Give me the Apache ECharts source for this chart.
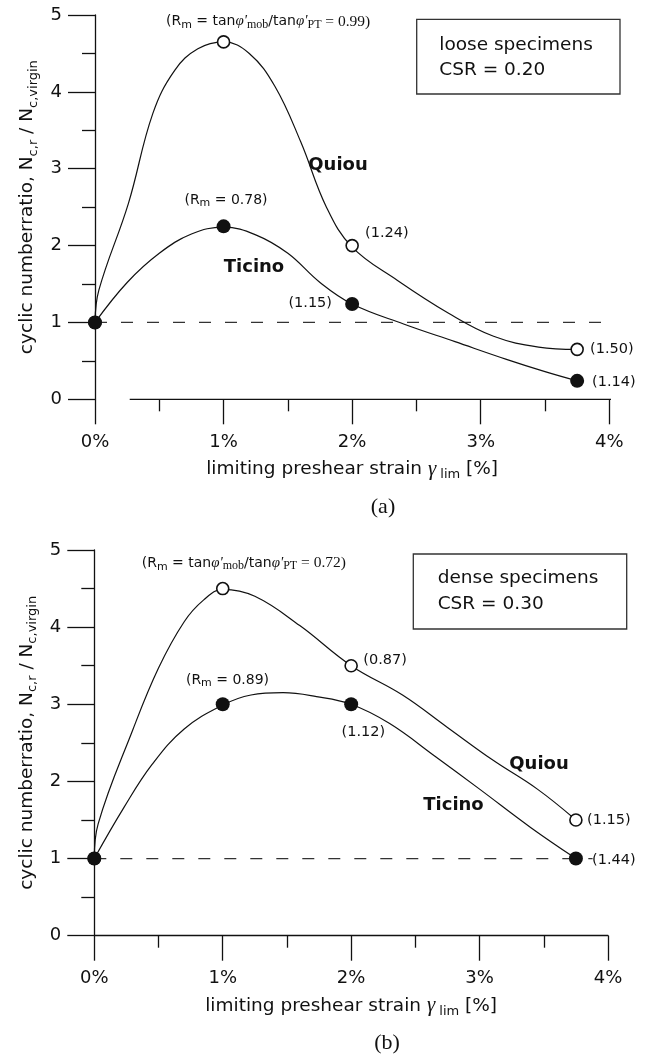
<!DOCTYPE html>
<html>
<head>
<meta charset="utf-8">
<script src="https://cdn.jsdelivr.net/npm/echarts@6/dist/echarts.min.js"></script>
<style>
html,body{margin:0;padding:0;background:#fff;}
#c{width:647px;height:1058px;}
</style>
</head>
<body>
<div id="c"></div>
<script>
// ---------- data ----------
const strainPct = [0, 1, 2, 3.75];               // limiting preshear strain [%]
const topQuiou = [1, 4.65, 2.0, 0.65];           // (a) loose, Quiou (open circles)
const topTicino = [1, 2.25, 1.24, 0.24];         // (a) loose, Ticino (filled)
const botQuiou = [1, 4.5, 3.5, 1.5];             // (b) dense, Quiou (open)
const botTicino = [1, 3.0, 3.0, 1.0];            // (b) dense, Ticino (filled)

// curves [strain %, ratio]
const topQuiouCurve = [[0,1],[0.03,1.42],[0.26,2.55],[0.45,3.72],[0.62,4.28],[0.8,4.56],[1,4.65],[1.2,4.5],[1.4,4.07],[1.6,3.35],[1.8,2.5],[2,1.98],[2.35,1.55],[2.75,1.12],[3.1,0.82],[3.45,0.68],[3.75,0.65]];
const topTicinoCurve = [[0,1],[0.25,1.52],[0.5,1.9],[0.75,2.15],[1,2.24],[1.25,2.14],[1.5,1.9],[1.75,1.52],[2,1.24],[2.4,0.98],[2.8,0.75],[3.2,0.52],[3.5,0.36],[3.75,0.24]];
const botQuiouCurve = [[0,1],[0.03,1.45],[0.3,2.67],[0.5,3.47],[0.7,4.07],[0.85,4.35],[1,4.49],[1.25,4.4],[1.6,4.02],[2,3.5],[2.4,3.12],[2.75,2.7],[3.1,2.28],[3.45,1.9],[3.75,1.5]];
const botTicinoCurve = [[0,1],[0.23,1.66],[0.45,2.22],[0.7,2.68],[1,2.99],[1.22,3.12],[1.47,3.15],[1.73,3.1],[2,3.0],[2.3,2.75],[2.65,2.33],[3.0,1.9],[3.4,1.4],[3.75,1.0]];

const refLineTop = [[0,1],[4.04,1]];             // dashed N=1 reference
const refLineBot = [[0,1],[3.88,1]];
const topAxisLine = [[0.27,0],[4.27,0]];         // detached x-axis line of (a)

const xTicks = [0,1,2,3,4];
const yTicks = [0,1,2,3,4,5];

// ---------- styling ----------
const sans = '"DejaVu Sans", sans-serif';
const serif = '"Liberation Serif", "DejaVu Serif", serif';
const ink = '#111';
const pairs = (ys) => strainPct.map((x, i) => [x, ys[i]]);

const yName = '{n|cyclic numberratio, N}{s|c,r}{n| / N}{s|c,virgin}';
const yRich = {
  n: {fontFamily: sans, fontSize: 18.5, color: ink, lineHeight: 24, verticalAlign: 'middle'},
  s: {fontFamily: sans, fontSize: 13, color: ink, lineHeight: 14, verticalAlign: 'bottom'}
};
const xName = '{n|limiting preshear strain }{g|γ}{s| lim}{n| [%]}';
const xRich = {
  n: {fontFamily: sans, fontSize: 18.5, color: ink, lineHeight: 24, verticalAlign: 'middle'},
  g: {fontFamily: serif, fontStyle: 'italic', fontSize: 21, color: ink, lineHeight: 24, verticalAlign: 'middle'},
  s: {fontFamily: sans, fontSize: 13, color: ink, lineHeight: 14, verticalAlign: 'bottom'}
};

function xAxisCfg(grid, showLine) {
  return {
    gridIndex: grid, type: 'value', min: xTicks[0], max: xTicks[xTicks.length-1], interval: 1,
    axisLine: {show: showLine, onZero: false, lineStyle: {color: ink, width: 1.3}},
    axisTick: {show: true, length: 25, lineStyle: {color: ink, width: 1.3}},
    minorTick: {show: true, splitNumber: 2, length: 12, lineStyle: {color: ink, width: 1.3}},
    splitLine: {show: false}, minorSplitLine: {show: false},
    axisLabel: {formatter: v => v + '%', margin: 34, fontSize: 18, fontFamily: sans, color: ink},
    name: xName, nameLocation: 'middle', nameGap: 58,
    nameTextStyle: {rich: xRich}
  };
}
function yAxisCfg(grid) {
  return {
    gridIndex: grid, type: 'value', min: yTicks[0], max: yTicks[yTicks.length-1], interval: 1,
    axisLine: {show: true, onZero: false, lineStyle: {color: ink, width: 1.3}},
    axisTick: {show: true, length: 27, lineStyle: {color: ink, width: 1.3}},
    minorTick: {show: true, splitNumber: 2, length: 13, lineStyle: {color: ink, width: 1.3}},
    splitLine: {show: false}, minorSplitLine: {show: false},
    axisLabel: {margin: 33, fontSize: 18, fontFamily: sans, color: ink},
    name: yName, nameLocation: 'middle', nameGap: 52, nameRotate: 90,
    nameTextStyle: {rich: yRich}
  };
}
function curve(grid, data) {
  return {type: 'line', xAxisIndex: grid, yAxisIndex: grid, data: data, smooth: 0.4,
    showSymbol: false, symbol: 'none', silent: true, z: 2,
    lineStyle: {color: ink, width: 1.2}};
}
function markers(grid, data, open) {
  return {type: 'scatter', xAxisIndex: grid, yAxisIndex: grid, data: data, symbol: 'circle',
    symbolSize: open ? 12 : 14, silent: true, z: 5,
    itemStyle: open ? {color: '#fff', borderColor: ink, borderWidth: 1.6, opacity: 1}
                    : {color: ink, opacity: 1}};
}
function dashed(grid, data) {
  return {type: 'line', xAxisIndex: grid, yAxisIndex: grid, data: data, clip: false,
    showSymbol: false, symbol: 'none', silent: true, z: 1,
    lineStyle: {color: '#333', width: 1.3, type: [12, 14]}};
}

// annotation helpers
const annRich = {
  a: {fontFamily: sans, fontSize: 14, color: ink, lineHeight: 18, verticalAlign: 'middle'},
  b: {fontFamily: sans, fontSize: 11, color: ink, lineHeight: 11, verticalAlign: 'bottom'},
  p: {fontFamily: serif, fontStyle: 'italic', fontSize: 15, color: ink, lineHeight: 18, verticalAlign: 'middle'},
  c: {fontFamily: serif, fontSize: 12, color: ink, lineHeight: 12, verticalAlign: 'bottom'},
  d: {fontFamily: serif, fontSize: 15.5, color: ink, lineHeight: 18, verticalAlign: 'middle'}
};
function txt(x, y, text, opts) {
  opts = opts || {};
  return {type: 'text', x: x, y: y, silent: true, z: 10,
    style: Object.assign({text: text, fill: ink, fontFamily: sans, fontSize: 14.5,
      align: 'left', verticalAlign: 'middle', rich: annRich}, opts)};
}
function box(x, y, w, h) {
  return {type: 'rect', silent: true, z: 10, shape: {x: x, y: y, width: w, height: h},
    style: {fill: 'none', stroke: '#333', lineWidth: 1.3}};
}

const chart = echarts.init(document.getElementById('c'), null, {renderer: 'canvas'});
chart.setOption({
  animation: false,
  backgroundColor: '#fff',
  grid: [
    {left: 95, top: 15, width: 514.3, height: 384.3},
    {left: 94.3, top: 550, width: 513.7, height: 385.7}
  ],
  xAxis: [xAxisCfg(0, false), xAxisCfg(1, true)],
  yAxis: [yAxisCfg(0), yAxisCfg(1)],
  series: [
    {type: 'line', xAxisIndex: 0, yAxisIndex: 0, data: topAxisLine, clip: false, showSymbol: false,
      symbol: 'none', silent: true, z: 1, lineStyle: {color: ink, width: 1.3}},
    dashed(0, refLineTop),
    curve(0, topQuiouCurve), curve(0, topTicinoCurve),
    markers(0, pairs(topQuiou), true), markers(0, pairs(topTicino), false),
    dashed(1, refLineBot),
    curve(1, botQuiouCurve), curve(1, botTicinoCurve),
    markers(1, pairs(botQuiou), true), markers(1, pairs(botTicino), false)
  ],
  graphic: [
    // (a)
    txt(166, 21.5, "{a|(R}{b|m}{a| = tan}{p|φ'}{c|mob}{a|/tan}{p|φ'}{c|PT}{d| = 0.99)}"),
    txt(226, 200, '{a|(R}{b|m}{a| = 0.78)}', {align: 'center'}),
    txt(338, 165, 'Quiou', {align: 'center', fontWeight: 'bold', fontSize: 18}),
    txt(254, 267, 'Ticino', {align: 'center', fontWeight: 'bold', fontSize: 18}),
    txt(365, 233, '(1.24)'),
    txt(332, 303, '(1.15)', {align: 'right'}),
    txt(590, 349, '(1.50)'),
    txt(592, 382, '(1.14)'),
    box(416.7, 19.3, 203.3, 74.7),
    txt(439.3, 45, 'loose specimens', {fontSize: 18.5}),
    txt(439.3, 70.5, 'CSR = 0.20', {fontSize: 18.5}),
    txt(383, 507, '(a)', {align: 'center', fontFamily: serif, fontSize: 22}),
    // (b)
    txt(141.7, 563.3, "{a|(R}{b|m}{a| = tan}{p|φ'}{c|mob}{a|/tan}{p|φ'}{c|PT}{d| = 0.72)}"),
    txt(227.5, 680, '{a|(R}{b|m}{a| = 0.89)}', {align: 'center'}),
    txt(363.3, 660, '(0.87)'),
    txt(363.3, 732, '(1.12)', {align: 'center'}),
    txt(539, 764, 'Quiou', {align: 'center', fontWeight: 'bold', fontSize: 18}),
    txt(453.5, 805, 'Ticino', {align: 'center', fontWeight: 'bold', fontSize: 18}),
    txt(587, 820, '(1.15)'),
    txt(592, 860, '(1.44)'),
    box(413.3, 554, 213.4, 75),
    txt(437.7, 578.5, 'dense specimens', {fontSize: 18.5}),
    txt(437.7, 604.5, 'CSR = 0.30', {fontSize: 18.5}),
    txt(387, 1043, '(b)', {align: 'center', fontFamily: serif, fontSize: 22})
  ]
});
</script>
</body>
</html>
